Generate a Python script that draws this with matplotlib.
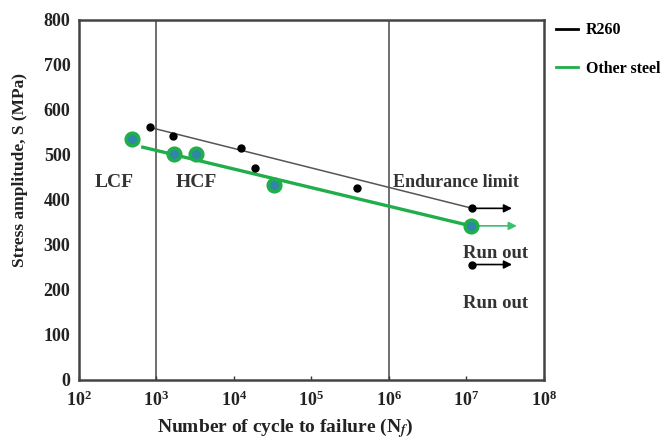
import matplotlib.pyplot as plt

plt.rcParams['font.family'] = ['Liberation Serif', 'DejaVu Serif']
plt.rcParams['font.weight'] = 'bold'
plt.rcParams['mathtext.fontset'] = 'stix'

# measured points
r260_n = [830, 1630, 12300, 19000, 390000, 1.2e7]
r260_s = [561, 541, 515, 470, 426, 381]
other_n = [480, 1700, 3300, 33000, 1.15e7]
other_s = [535, 502, 502, 433, 342]

# fitted S-N lines (end points)
r260_fit_n = [830, 1.2e7]
r260_fit_s = [561, 381]
other_fit_n = [670, 1.15e7]
other_fit_s = [517, 342]

# run-out markers
runout_n = [1.2e7, 1.15e7, 1.2e7]
runout_s = [381, 342, 256]
runout_end = [3.9e7, 4.5e7, 3.9e7]
runout_col = ['black', '#3cc070', 'black']

region_lines = [1e3, 1e6]

fig = plt.figure(figsize=(6.68, 4.44), dpi=100)
ax = fig.add_axes([0.118, 0.145, 0.696, 0.81])

for xv in region_lines:
    ax.axvline(xv, color='#555555', lw=1.2, zorder=1)

ax.plot(r260_fit_n, r260_fit_s, color='#555555', lw=1.1, zorder=2)
ax.plot(other_fit_n, other_fit_s, color='#1fae4a', lw=2.4, zorder=2)

for n0, s0, n1, c in zip(runout_n, runout_s, runout_end, runout_col):
    ax.annotate('', xy=(n1, s0), xytext=(n0, s0),
                arrowprops=dict(arrowstyle='-|>', color=c, lw=1.2,
                                mutation_scale=12, shrinkA=0, shrinkB=0), zorder=3)

ax.plot(r260_n, r260_s, 'o', color='black', ms=5, zorder=4)
ax.plot([runout_n[2]], [runout_s[2]], 'o', color='black', ms=5, zorder=4)
ax.plot(other_n, other_s, 'o', mfc='#2f86a8', mec='#1fae4a', mew=2.6, ms=9, zorder=5)

ax.set_xscale('log')
ax.set_xlim(1e2, 1e8)
ax.set_ylim(0, 800)
ax.set_xticks([1e2, 1e3, 1e4, 1e5, 1e6, 1e7, 1e8])
ax.set_yticks(range(0, 801, 100))
ax.minorticks_off()
ax.tick_params(axis='both', direction='in', length=3, width=1, labelsize=13, colors='#333333')
ax.tick_params(axis='y', length=0, pad=6)
ax.tick_params(axis='x', pad=8)
for lbl in ax.get_xticklabels() + ax.get_yticklabels():
    lbl.set_fontweight('bold')
    lbl.set_color('#222222')
for sp in ax.spines.values():
    sp.set_linewidth(1.8)
    sp.set_color('#444444')

ax.text(1.6e2, 428, 'LCF', fontsize=14, color='#333333')
ax.text(1.75e3, 428, 'HCF', fontsize=14, color='#333333')
ax.text(1.15e6, 428, 'Endurance limit', fontsize=13, color='#333333')
ax.text(9.0e6, 271, 'Run out', fontsize=13.5, color='#333333')
ax.text(9.0e6, 159, 'Run out', fontsize=13.5, color='#333333')

fig.text(0.03, 0.617, 'Stress amplitude, S (MPa)', fontsize=12.5, fontweight='bold',
         rotation=90, ha='center', va='center', color='#222222')
fig.text(0.427, 0.036, 'Number of cycle to failure (N$_f$)', fontsize=14, fontweight='bold',
         ha='center', va='center', color='#222222')

h1, = ax.plot([], [], color='black', lw=2)
h2, = ax.plot([], [], color='#1fae4a', lw=2)
ax.legend([h1, h2], ['R260', 'Other steel'], loc='upper left', bbox_to_anchor=(1.005, 1.02),
          frameon=False, handlelength=1.4, handletextpad=0.5, labelspacing=1.4,
          borderaxespad=0.2, prop={'weight': 'bold', 'size': 11.5})

fig.savefig('out.png', dpi=100)
